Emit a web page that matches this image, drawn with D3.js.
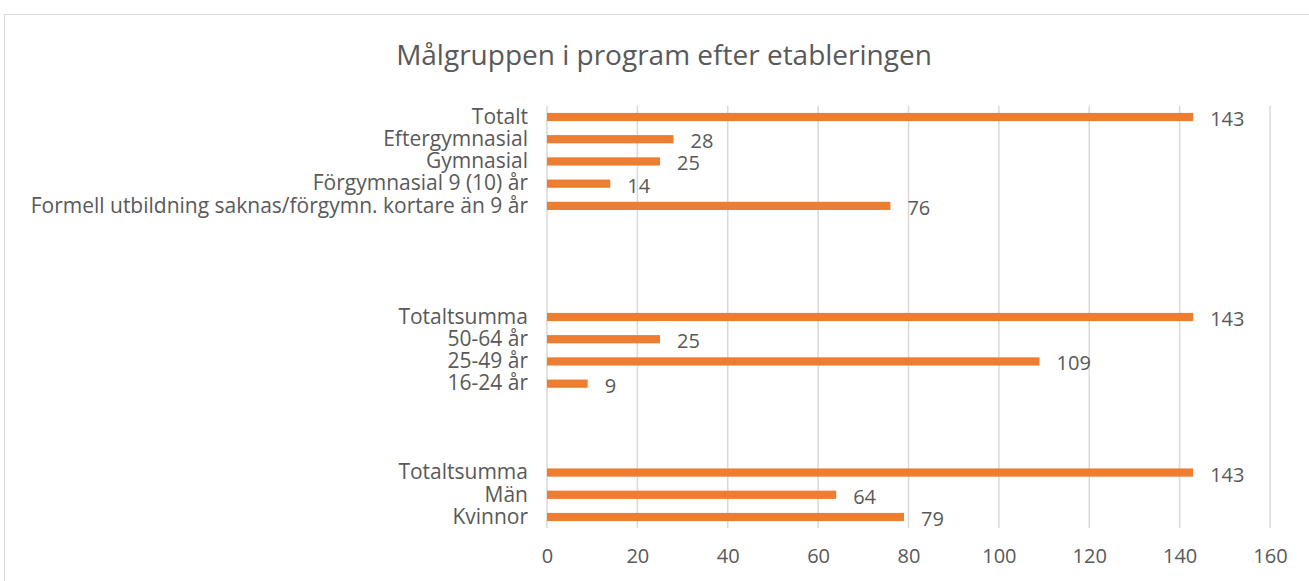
<!DOCTYPE html>
<html>
<head>
<meta charset="utf-8">
<script src="https://cdn.jsdelivr.net/npm/d3@7"></script>
<style>
  body { margin:0; background:#fff; }
  text { font-family: "Open Sans", "Noto Sans", sans-serif; fill:#595959; }
</style>
</head>
<body>
<div id="chart"></div>
<script>
// categories top to bottom, "" entries are empty spacer rows
var categories = ["Totalt", "Eftergymnasial", "Gymnasial", "Förgymnasial 9 (10) år",
    "Formell utbildning saknas/förgymn. kortare än 9 år", "", "", "", "",
    "Totaltsumma", "50-64 år", "25-49 år", "16-24 år", "", "", "",
    "Totaltsumma", "Män", "Kvinnor"];
var values = [143, 28, 25, 14, 76, null, null, null, null,
    143, 25, 109, 9, null, null, null,
    143, 64, 79];
var xTicks = [0, 20, 40, 60, 80, 100, 120, 140, 160];
var title = "Målgruppen i program efter etableringen";

var W = 1309, H = 581;
var margin = { left:547, right:39, top:106, bottom:53 };
var width = W - margin.left - margin.right,
    height = H - margin.top - margin.bottom;

var rows = categories.map(function(c, i){ return { key: "r" + i, label: c, value: values[i] }; });

var svg = d3.select("#chart").append("svg")
    .attr("width", W).attr("height", H);

svg.append("rect")
    .attr("x", 4.5).attr("y", 14.5)
    .attr("width", W).attr("height", H)
    .attr("fill", "none").attr("stroke", "#d9d9d9");

svg.append("text")
    .attr("x", 664).attr("y", 65)
    .attr("text-anchor", "middle")
    .attr("font-size", "28px")
    .text(title);

var g = svg.append("g")
    .attr("transform", "translate(" + margin.left + "," + margin.top + ")");

var x = d3.scaleLinear().domain([0, 160]).range([0, width]);
var y = d3.scaleBand().domain(rows.map(function(d){ return d.key; }))
    .range([0, height]).paddingInner(0.63).paddingOuter(0.31);

// gridlines
g.selectAll(".grid").data(xTicks).enter().append("line")
    .attr("x1", function(d){ return x(d); })
    .attr("x2", function(d){ return x(d); })
    .attr("y1", 0).attr("y2", height)
    .attr("stroke", "#d9d9d9").attr("stroke-width", 1.5);

var xAxis = d3.axisBottom(x).tickValues(xTicks).tickSize(0).tickPadding(21);
g.append("g")
    .attr("transform", "translate(0," + height + ")")
    .call(xAxis)
    .call(function(a){ a.select(".domain").remove(); })
    .selectAll("text")
    .attr("font-size", "20px")
    .attr("fill", "#595959")
    .style("font-family", "'Open Sans', sans-serif");

var yAxis = d3.axisLeft(y).tickSize(0).tickPadding(19)
    .tickFormat(function(k){ return rows.find(function(r){ return r.key === k; }).label; });
g.append("g")
    .call(yAxis)
    .call(function(a){ a.select(".domain").remove(); })
    .selectAll("text")
    .attr("font-size", "21px")
    .attr("fill", "#595959")
    .style("font-family", "'Open Sans', sans-serif");

var data = rows.filter(function(d){ return d.value != null; });

g.selectAll(".bar").data(data).enter().append("rect")
    .attr("x", x(0))
    .attr("y", function(d){ return y(d.key); })
    .attr("width", function(d){ return x(d.value) - x(0); })
    .attr("height", y.bandwidth())
    .attr("fill", "#ED7D31");

g.selectAll(".val").data(data).enter().append("text")
    .attr("x", function(d){ return x(d.value) + 17; })
    .attr("y", function(d){ return y(d.key) + y.bandwidth() / 2; })
    .attr("dy", "0.45em")
    .attr("font-size", "20px")
    .attr("fill", "#404040")
    .text(function(d){ return d.value; });
</script>
</body>
</html>
